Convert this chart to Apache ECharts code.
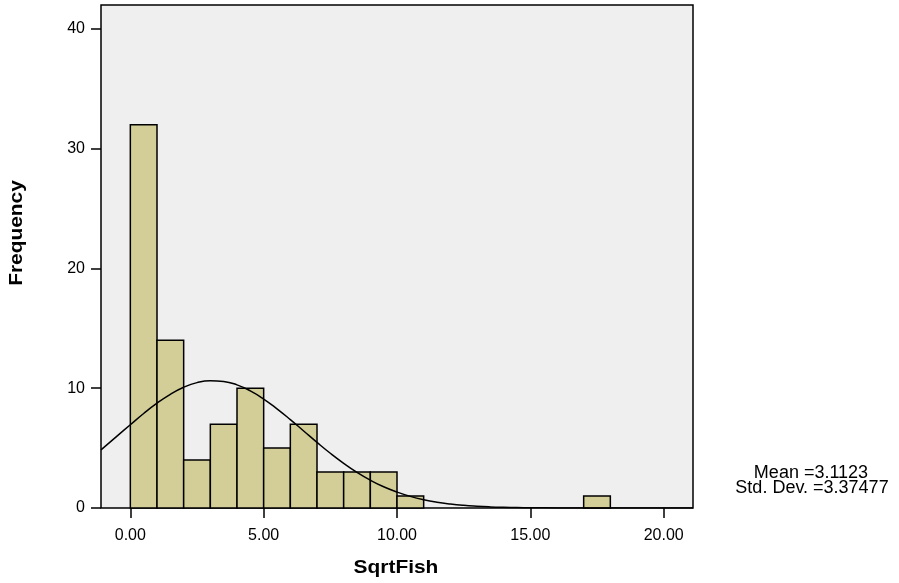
<!DOCTYPE html>
<html>
<head>
<meta charset="utf-8">
<script src="https://cdn.jsdelivr.net/npm/echarts@6/dist/echarts.min.js"></script>
<style>html,body{margin:0;padding:0;background:#fff;}#c{width:899px;height:583px;}</style>
</head>
<body>
<div id="c"></div>
<script>
// Histogram bins (width 1) and counts
var binStarts = [0,1,2,3,4,5,6,7,8,9,10,17];
var binCounts = [32,14,4,7,10,5,7,3,3,3,1,1];
var binWidth = 1;
// Normal curve points
var curveX = [-1.1,-0.5,0,0.5,1,1.5,2,2.5,3,3.5,4,4.5,5,5.5,6,6.5,7,7.5,8,8.5,9,9.5,10,10.5,11,11.5,12,12.5,13,13.5,14,14.5,15,16,17,18,19,20,21.1];
var curveY = [4.85,6.0,6.95,7.89,8.75,9.49,10.08,10.47,10.63,10.57,10.28,9.78,9.10,8.28,7.38,6.43,5.48,4.57,3.73,2.97,2.32,1.77,1.33,0.97,0.69,0.48,0.33,0.22,0.146,0.093,0.058,0.035,0.021,0.007,0.002,0.0005,0.0001,0,0];
var xTicks = [0,5,10,15,20];
var yTicks = [0,10,20,30,40];
var statsLines = ['Mean =3.1123','Std. Dev. =3.37477'];

var chart = echarts.init(document.getElementById('c'), null, {renderer:'canvas'});
var font = 'Arial, "Liberation Sans", sans-serif';
var barData = binStarts.map(function(s,i){return [s, s+binWidth, binCounts[i]];});
var curveData = curveX.map(function(x,i){return [x, curveY[i]];});

chart.setOption({
  animation:false,
  backgroundColor:'#ffffff',
  grid:{left:101, top:5, right:206, bottom:75, show:true, backgroundColor:'#efefef', borderColor:'#000', borderWidth:1.5, containLabel:false},
  xAxis:{type:'value', min:-1.1, max:21.1,
    axisLine:{show:false, onZero:false},
    splitLine:{show:false},
    axisTick:{show:true, length:10, customValues:xTicks, lineStyle:{color:'#000', width:1.5}},
    axisLabel:{customValues:xTicks, margin:20, color:'#000', fontSize:16, fontFamily:font, formatter:function(v){return v.toFixed(2);}}
  },
  yAxis:{type:'value', min:0, max:42,
    axisLine:{show:false, onZero:false},
    splitLine:{show:false},
    axisTick:{show:true, length:10, customValues:yTicks, lineStyle:{color:'#000', width:1.5}},
    axisLabel:{customValues:yTicks, margin:16, color:'#000', fontSize:16, fontFamily:font}
  },
  series:[
    {type:'custom', data:barData, encode:{x:[0,1], y:2},
      renderItem:function(params, api){
        var p0 = api.coord([api.value(0), 0]);
        var p1 = api.coord([api.value(1), api.value(2)]);
        return {type:'rect', shape:{x:p0[0], y:p1[1], width:p1[0]-p0[0], height:p0[1]-p1[1]},
          style:{fill:'#d3ce97', stroke:'#000', lineWidth:1.5}};
      }, z:2},
    {type:'line', data:curveData, smooth:true, showSymbol:false, symbol:'none',
      lineStyle:{color:'#000', width:1.5}, z:3, clip:true}
  ],
  graphic:[
    {type:'text', x:17, y:233, rotation:Math.PI/2, scaleX:1.1, style:{text:'Frequency', font:'bold 19px '+font, fill:'#000', textAlign:'center', textVerticalAlign:'middle'}},
    {type:'text', x:396, y:568, scaleX:1.1, style:{text:'SqrtFish', font:'bold 19px '+font, fill:'#000', textAlign:'center', textVerticalAlign:'middle'}},
    {type:'text', x:811, y:473, style:{text:statsLines[0], font:'18px '+font, fill:'#000', textAlign:'center', textVerticalAlign:'middle'}},
    {type:'text', x:812, y:488, style:{text:statsLines[1], font:'18px '+font, fill:'#000', textAlign:'center', textVerticalAlign:'middle'}}
  ]
});
</script>
</body>
</html>
